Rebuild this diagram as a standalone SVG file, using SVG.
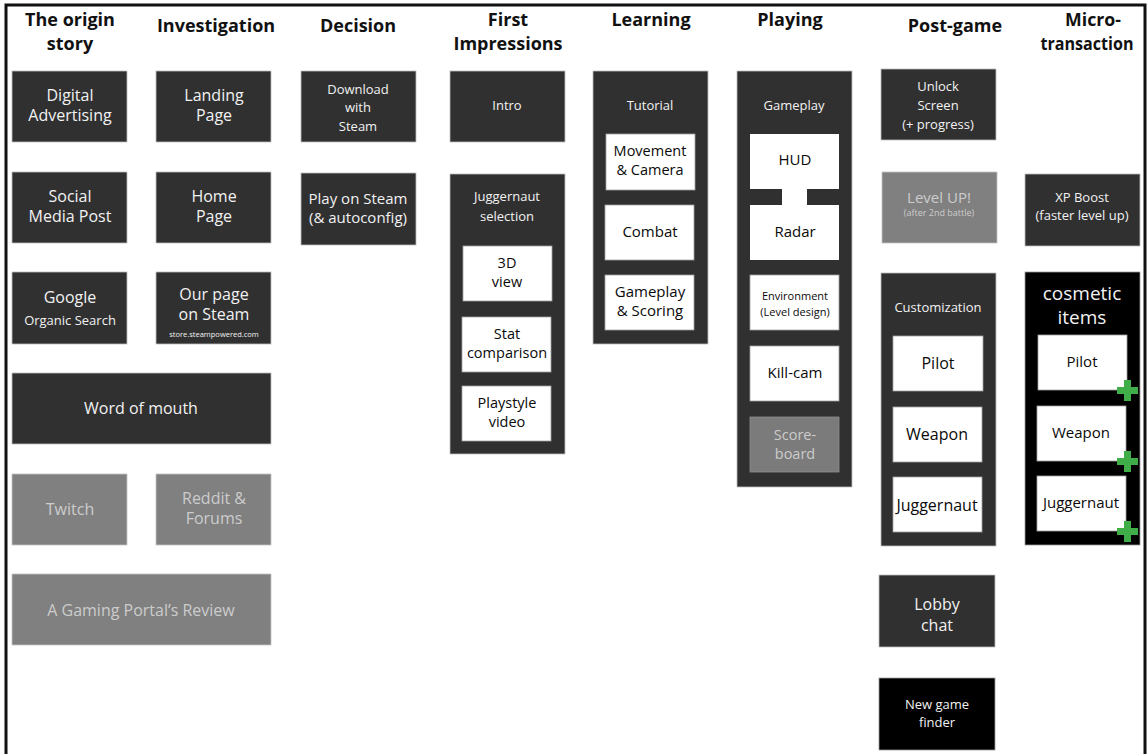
<svg xmlns="http://www.w3.org/2000/svg" width="1147" height="754" viewBox="0 0 1147 754">
  <style>
    text { font-family: "Open Sans", "Liberation Sans", sans-serif; text-anchor: middle; }
    .hd { font-weight: bold; font-size: 18px; fill: #111; }
    .dark { fill: #303030; stroke: #bdbdbd; stroke-width: 0.8; }
    .grey { fill: #808080; stroke: #c4c4c4; stroke-width: 0.8; }
    .blk { fill: #000; stroke: #9a9a9a; stroke-width: 0.8; }
    .wht { fill: #fff; stroke: #a0a0a0; stroke-width: 0.8; }
    .sgrey { fill: #7b7b7b; stroke: #8e8e8e; stroke-width: 0.8; }
    .tl { fill: #f2f2f2; }
    .tg { fill: #cccccc; }
    .td { fill: #0a0a0a; }
    .plus { fill: #3fae49; }
  </style>

  <!-- outer frame -->
  <rect x="6" y="5" width="1139" height="760" fill="#fff" stroke="#111" stroke-width="3"/>

  <!-- column headings -->
  <g id="headings">
    <text class="hd" x="70" y="26">The origin</text>
    <text class="hd" x="70" y="50">story</text>
    <text class="hd" x="216" y="32">Investigation</text>
    <text class="hd" x="358" y="32">Decision</text>
    <text class="hd" x="508" y="26">First</text>
    <text class="hd" x="508" y="50">Impressions</text>
    <text class="hd" x="651" y="26">Learning</text>
    <text class="hd" x="790" y="26">Playing</text>
    <text class="hd" x="955" y="32">Post-game</text>
    <text class="hd" x="1093" y="26" textLength="56" lengthAdjust="spacingAndGlyphs">Micro-</text>
    <text class="hd" x="1087" y="50" textLength="93" lengthAdjust="spacingAndGlyphs">transaction</text>
  </g>

  <!-- The origin story -->
  <g id="digital-advertising">
    <rect class="dark" x="12" y="71" width="115" height="71"/>
    <text class="tl" x="70" y="101" font-size="16">Digital</text>
    <text class="tl" x="70" y="121" font-size="16">Advertising</text>
  </g>
  <g id="social-media-post">
    <rect class="dark" x="12" y="172" width="115" height="71"/>
    <text class="tl" x="70" y="202" font-size="16">Social</text>
    <text class="tl" x="70" y="222" font-size="16">Media Post</text>
  </g>
  <g id="google">
    <rect class="dark" x="12" y="272" width="115" height="72"/>
    <text class="tl" x="70" y="303" font-size="16">Google</text>
    <text class="tl" x="70" y="324.5" font-size="13">Organic Search</text>
  </g>
  <g id="word-of-mouth">
    <rect class="dark" x="12" y="373" width="259" height="71"/>
    <text class="tl" x="141" y="414" font-size="16">Word of mouth</text>
  </g>
  <g id="twitch">
    <rect class="grey" x="12" y="474" width="115" height="71"/>
    <text class="tg" x="70" y="515" font-size="16">Twitch</text>
  </g>
  <g id="gaming-portal-review">
    <rect class="grey" x="12" y="574" width="259" height="71"/>
    <text class="tg" x="141" y="616" font-size="16">A Gaming Portal’s Review</text>
  </g>

  <!-- Investigation -->
  <g id="landing-page">
    <rect class="dark" x="156" y="71" width="115" height="71"/>
    <text class="tl" x="214" y="101" font-size="16">Landing</text>
    <text class="tl" x="214" y="121" font-size="16">Page</text>
  </g>
  <g id="home-page">
    <rect class="dark" x="156" y="172" width="115" height="71"/>
    <text class="tl" x="214" y="202" font-size="16">Home</text>
    <text class="tl" x="214" y="222" font-size="16">Page</text>
  </g>
  <g id="steam-page">
    <rect class="dark" x="156" y="272" width="115" height="72"/>
    <text class="tl" x="214" y="300" font-size="16">Our page</text>
    <text class="tl" x="214" y="320" font-size="16">on Steam</text>
    <text class="tl" x="214" y="336.5" font-size="7.5">store.steampowered.com</text>
  </g>
  <g id="reddit-forums">
    <rect class="grey" x="156" y="474" width="115" height="71"/>
    <text class="tg" x="214" y="504" font-size="16">Reddit &amp;</text>
    <text class="tg" x="214" y="524" font-size="16">Forums</text>
  </g>

  <!-- Decision -->
  <g id="download-steam">
    <rect class="dark" x="301" y="71" width="115" height="71"/>
    <text class="tl" x="358" y="93.5" font-size="13">Download</text>
    <text class="tl" x="358" y="112" font-size="13">with</text>
    <text class="tl" x="358" y="131" font-size="13">Steam</text>
  </g>
  <g id="play-steam">
    <rect class="dark" x="301" y="173" width="115" height="72"/>
    <text class="tl" x="358" y="204" font-size="15">Play on Steam</text>
    <text class="tl" x="358" y="222.5" font-size="15">(&amp; autoconfig)</text>
  </g>

  <!-- First Impressions -->
  <g id="intro">
    <rect class="dark" x="450" y="71" width="115" height="71"/>
    <text class="tl" x="507" y="110" font-size="13">Intro</text>
  </g>
  <g id="juggernaut-selection">
    <rect class="dark" x="450" y="174" width="115" height="280"/>
    <text class="tl" x="507" y="201" font-size="13">Juggernaut</text>
    <text class="tl" x="507" y="220.5" font-size="13">selection</text>
    <rect class="wht" x="463" y="246" width="89" height="55"/>
    <text class="td" x="507" y="268" font-size="14.5">3D</text>
    <text class="td" x="507" y="287" font-size="14.5">view</text>
    <rect class="wht" x="462" y="317" width="89" height="55"/>
    <text class="td" x="507" y="339" font-size="14.5">Stat</text>
    <text class="td" x="507" y="358" font-size="14.5">comparison</text>
    <rect class="wht" x="462" y="386" width="89" height="55"/>
    <text class="td" x="507" y="408" font-size="14.5">Playstyle</text>
    <text class="td" x="507" y="427" font-size="14.5">video</text>
  </g>

  <!-- Learning -->
  <g id="tutorial">
    <rect class="dark" x="593" y="71" width="115" height="273"/>
    <text class="tl" x="650" y="110" font-size="13">Tutorial</text>
    <rect class="wht" x="606" y="134" width="89" height="56"/>
    <text class="td" x="650" y="156" font-size="14.5">Movement</text>
    <text class="td" x="650" y="175" font-size="14.5">&amp; Camera</text>
    <rect class="wht" x="605" y="205" width="89" height="55"/>
    <text class="td" x="650" y="237" font-size="15">Combat</text>
    <rect class="wht" x="605" y="275" width="89" height="55"/>
    <text class="td" x="650" y="297" font-size="15">Gameplay</text>
    <text class="td" x="650" y="316" font-size="15">&amp; Scoring</text>
  </g>

  <!-- Playing -->
  <g id="gameplay">
    <rect class="dark" x="737" y="71" width="115" height="416"/>
    <text class="tl" x="794" y="110" font-size="13">Gameplay</text>
  </g>
  <g id="hud">
    <rect x="750" y="134" width="89" height="55" fill="#fff"/>
    <text class="td" x="795" y="165" font-size="15">HUD</text>
  </g>
  <g id="radar">
    <rect x="750" y="205" width="89" height="55" fill="#fff"/>
    <text class="td" x="795" y="237" font-size="15">Radar</text>
  </g>
  <g id="environment">
    <rect class="wht" x="750" y="275" width="89" height="55"/>
    <text class="td" x="795" y="300" font-size="11">Environment</text>
    <text class="td" x="795" y="316" font-size="11">(Level design)</text>
  </g>
  <g id="kill-cam">
    <rect class="wht" x="750" y="346" width="89" height="55"/>
    <text class="td" x="795" y="378" font-size="15">Kill-cam</text>
  </g>
  <g id="scoreboard">
    <rect class="sgrey" x="750" y="417" width="89" height="55"/>
    <text class="tg" x="795" y="440" font-size="14.5">Score-</text>
    <text class="tg" x="795" y="459" font-size="14.5">board</text>
  </g>

  <!-- Post-game -->
  <g id="unlock-screen">
    <rect class="dark" x="881" y="69" width="115" height="71"/>
    <text class="tl" x="938" y="91" font-size="13">Unlock</text>
    <text class="tl" x="938" y="110" font-size="13">Screen</text>
    <text class="tl" x="938" y="129" font-size="13">(+ progress)</text>
  </g>
  <g id="level-up">
    <rect class="grey" x="882" y="172" width="115" height="71"/>
    <text class="tg" x="939" y="202.5" font-size="15">Level UP!</text>
    <text class="tg" x="939" y="216" font-size="9">(after 2nd battle)</text>
  </g>
  <g id="customization">
    <rect class="dark" x="881" y="273" width="115" height="273"/>
    <text class="tl" x="938" y="312" font-size="13">Customization</text>
    <rect class="wht" x="893" y="336" width="90" height="55"/>
    <text class="td" x="938" y="368.5" font-size="16">Pilot</text>
    <rect class="wht" x="893" y="407" width="89" height="55"/>
    <text class="td" x="937" y="439.5" font-size="16">Weapon</text>
    <rect class="wht" x="893" y="477" width="89" height="55"/>
    <text class="td" x="937" y="510.5" font-size="16">Juggernaut</text>
  </g>
  <g id="lobby-chat">
    <rect class="dark" x="879" y="575" width="116" height="72"/>
    <text class="tl" x="937" y="609.5" font-size="16">Lobby</text>
    <text class="tl" x="937" y="630.5" font-size="16">chat</text>
  </g>
  <g id="new-game-finder">
    <rect class="blk" x="879" y="678" width="116" height="72"/>
    <text class="tl" x="937" y="709" font-size="13">New game</text>
    <text class="tl" x="937" y="727" font-size="13">finder</text>
  </g>

  <!-- Micro-transaction -->
  <g id="xp-boost">
    <rect class="dark" x="1025" y="174" width="115" height="72"/>
    <text class="tl" x="1082" y="202" font-size="13">XP Boost</text>
    <text class="tl" x="1082" y="220" font-size="13">(faster level up)</text>
  </g>
  <g id="cosmetic-items">
    <rect class="blk" x="1025" y="272" width="115" height="273"/>
    <text class="tl" x="1082" y="299.5" font-size="19">cosmetic</text>
    <text class="tl" x="1082" y="323.5" font-size="19">items</text>
    <rect class="wht" x="1038" y="335" width="89" height="55"/>
    <text class="td" x="1082" y="367" font-size="15">Pilot</text>
    <rect class="wht" x="1037" y="406" width="89" height="55"/>
    <text class="td" x="1081" y="438" font-size="15">Weapon</text>
    <rect class="wht" x="1037" y="476" width="89" height="55"/>
    <text class="td" x="1081" y="508" font-size="15">Juggernaut</text>
    <path class="plus" d="M1124,380h7v7h7v7h-7v7h-7v-7h-7v-7h7z"/>
    <path class="plus" d="M1124,451h7v7h7v7h-7v7h-7v-7h-7v-7h7z"/>
    <path class="plus" d="M1124,521h7v7h7v7h-7v7h-7v-7h-7v-7h7z"/>
  </g>

  <!-- link joining HUD and Radar -->
  <g id="connectors">
    <rect x="782" y="188" width="25" height="18" fill="#fff"/>
  </g>
</svg>
